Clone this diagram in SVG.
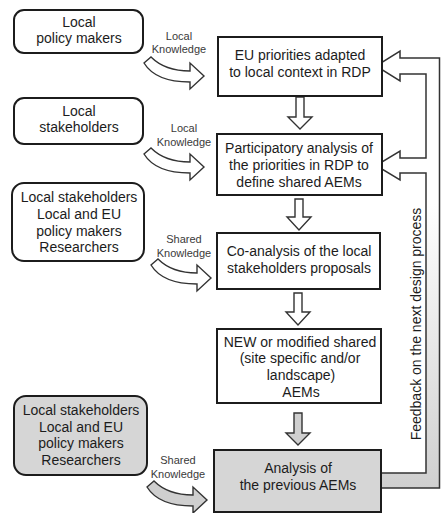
<svg xmlns="http://www.w3.org/2000/svg" width="441" height="513" viewBox="0 0 441 513">
<defs>
<linearGradient id="fbg" x1="0" y1="0" x2="0" y2="1">
<stop offset="0" stop-color="#ffffff"/>
<stop offset="0.35" stop-color="#ffffff"/>
<stop offset="1" stop-color="#cfcfcf"/>
</linearGradient>
<path id="curv" d="M -60,-13 L -53,-19 C -44,-10 -32,-5 -14,-5 L -14,-13 L 0,0 L -14,13 L -14,6 C -36,6 -52,0 -60,-13 Z"/>
</defs>
<style>
text{font-family:"Liberation Sans",Arial,sans-serif;fill:#1c1c1c;text-anchor:middle}
.t{font-size:14px}
.s{font-size:11px;fill:#3a3a3a}
.actor{fill:#fff;stroke:#1c1c1c;stroke-width:2}
.box{fill:#fff;stroke:#1c1c1c;stroke-width:2}
.gray{fill:#d6d6d6}
.harrow{fill:#fff;stroke:#333;stroke-width:1.4;stroke-linejoin:miter}
.garrow{fill:#cfcfcf;stroke:#333;stroke-width:1.4}
</style>
<rect width="441" height="513" fill="#fff"/>

<g id="connectors">
<path id="feedback" d="M 381,488 L 439.5,488 L 439.5,58 L 400,58 L 400,51 L 376,66 L 400,81 L 400,74 L 426,74 L 426,158 L 400,158 L 400,151 L 376,165.5 L 400,180 L 400,173 L 426,173 L 426,473 L 381,473 Z" fill="url(#fbg)" stroke="#333" stroke-width="1.5" stroke-linejoin="miter"/>
<text class="t" transform="translate(421,324) rotate(-90)">Feedback on the next design process</text>
<use href="#curv" class="harrow" transform="translate(204,76)"/>
<use href="#curv" class="harrow" transform="translate(204,167)"/>
<use href="#curv" class="harrow" transform="translate(211,278)"/>
<use href="#curv" class="garrow" transform="translate(207,500)"/>
<text class="s" x="179" y="40">Local</text>
<text class="s" x="179" y="53">Knowledge</text>
<text class="s" x="184" y="132">Local</text>
<text class="s" x="184" y="146">Knowledge</text>
<text class="s" x="184" y="243">Shared</text>
<text class="s" x="184" y="257">Knowledge</text>
<text class="s" x="178" y="464">Shared</text>
<text class="s" x="178" y="478">Knowledge</text>
<path class="harrow" d="M 296,97 L 304,97 L 304,117 L 312,117 L 300,129 L 288,117 L 296,117 Z"/>
<path class="harrow" d="M 295,199 L 303,199 L 303,217 L 311,217 L 299,230 L 287,217 L 295,217 Z"/>
<path class="harrow" d="M 294,293 L 302,293 L 302,312 L 310,312 L 298,325 L 286,312 L 294,312 Z"/>
<path class="garrow" d="M 294,413 L 302,413 L 302,433 L 310,433 L 298,445 L 286,433 L 294,433 Z"/>
</g>

<g id="actor1">
<rect class="actor" x="14" y="10" width="129" height="43" rx="10"/>
<text class="t" x="79" y="27">Local</text>
<text class="t" x="79" y="43">policy makers</text>
</g>
<g id="actor2">
<rect class="actor" x="14" y="98" width="129" height="46" rx="10"/>
<text class="t" x="79" y="116">Local</text>
<text class="t" x="79" y="132">stakeholders</text>
</g>
<g id="actor3">
<rect class="actor" x="12" y="183" width="132" height="78" rx="12"/>
<text class="t" x="79" y="202">Local stakeholders</text>
<text class="t" x="79" y="219">Local and EU</text>
<text class="t" x="79" y="236">policy makers</text>
<text class="t" x="79" y="252">Researchers</text>
</g>
<g id="actor4">
<rect class="actor gray" x="14" y="396" width="133" height="79" rx="12"/>
<text class="t" x="81" y="415">Local stakeholders</text>
<text class="t" x="81" y="432">Local and EU</text>
<text class="t" x="81" y="448">policy makers</text>
<text class="t" x="81" y="465">Researchers</text>
</g>

<g id="step1">
<rect class="box" x="218" y="37" width="164" height="59"/>
<text class="t" x="300" y="60">EU priorities adapted</text>
<text class="t" x="300" y="77">to local context in RDP</text>
</g>
<g id="step2">
<rect class="box" x="217" y="134" width="165" height="61"/>
<text class="t" x="299" y="153">Participatory analysis of</text>
<text class="t" x="299" y="170">the priorities in RDP to</text>
<text class="t" x="299" y="187">define shared AEMs</text>
</g>
<g id="step3">
<rect class="box" x="217" y="233" width="163" height="56"/>
<text class="t" x="299" y="256">Co-analysis of the local</text>
<text class="t" x="299" y="273">stakeholders proposals</text>
</g>
<g id="step4">
<rect class="box" x="217" y="329" width="164" height="74"/>
<text class="t" x="300" y="347">NEW or modified shared</text>
<text class="t" x="300" y="363">(site specific and/or</text>
<text class="t" x="301" y="380">landscape)</text>
<text class="t" x="301" y="397">AEMs</text>
</g>
<g id="step5">
<rect class="box gray" x="214" y="450" width="167" height="62"/>
<text class="t" x="298" y="473">Analysis of</text>
<text class="t" x="298" y="490">the previous AEMs</text>
</g>
</svg>
